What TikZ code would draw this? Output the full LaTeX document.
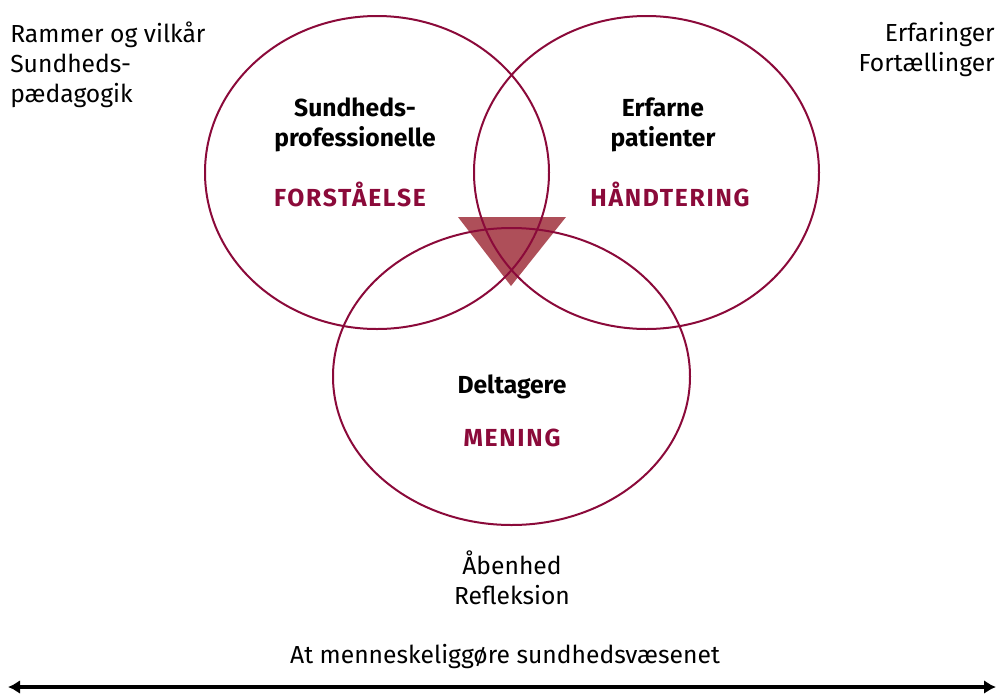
\documentclass[tikz,border=0pt]{standalone}
\usepackage{fontspec}
\setmainfont{Fira Sans}
\usetikzlibrary{shapes.geometric,arrows.meta}
\definecolor{C1}{HTML}{8B0A3A}
\definecolor{C2}{HTML}{AE4F59}

\begin{document}
\begin{tikzpicture}[x=0.75pt,y=-0.75pt]
\tikzstyle{ring} = [draw=C1,line width=1.5pt,ellipse,inner sep=0mm]
\tikzstyle{t} = [font=\fontsize{18.5}{22.5}\selectfont,align=center,inner sep=0mm]
\tikzstyle{h} = [t,font=\fontsize{18.5}{22.5}\selectfont\bfseries]
\tikzstyle{k} = [h,text=C1,font=\fontsize{18.5}{22.5}\selectfont\bfseries\addfontfeatures{LetterSpace=7}]
\tikzstyle{a} = [line width=2.6pt,{Latex[length=9pt,width=10.5pt]}-{Latex[length=9pt,width=10.5pt]}]
\useasboundingbox (0,0) rectangle (1000,697);
% triangle behind the circles
\coordinate (tl) at (458,217);
\coordinate (tr) at (566,217);
\coordinate (tb) at (511,286);
\fill[C2] (tl) -- (tr) -- (tb) -- cycle;
% the three circles
\node[ring,minimum width=258pt,minimum height=234.75pt] (prof) at (377,172.5) {};
\node[ring,minimum width=258.75pt,minimum height=234.75pt] (pat) at (646.5,172.5) {};
\node[ring,minimum width=267.75pt,minimum height=222.75pt] (delt) at (511.5,376.5) {};
% texts
\node[h] (profT) at (355,125) {Sundheds-\\professionelle};
\node[k] (profK) at (350,194) {FORSTÅELSE};
\node[h] (patT) at (663,125) {Erfarne\\patienter};
\node[k] (patK) at (670,194) {HÅNDTERING};
\node[h] (deltT) at (512,387) {Deltagere};
\node[k] (deltK) at (512,438) {MENING};
\node[t,anchor=west,align=left] (ramme) at (10,65) {Rammer og vilkår\\Sundheds-\\pædagogik};
\node[t,anchor=east,align=right] (erf) at (995,50) {Erfaringer\\Fortællinger};
\node[t] (aab) at (512,578) {Åbenhed\\Refleksion};
\node[t] (goal) at (505,656) {At menneskeliggøre sundhedsvæsenet};
% arrow
\coordinate (l) at (8,687);
\coordinate (r) at (996,687);
\draw[a] (l) -- (r);
\end{tikzpicture}
\end{document}
